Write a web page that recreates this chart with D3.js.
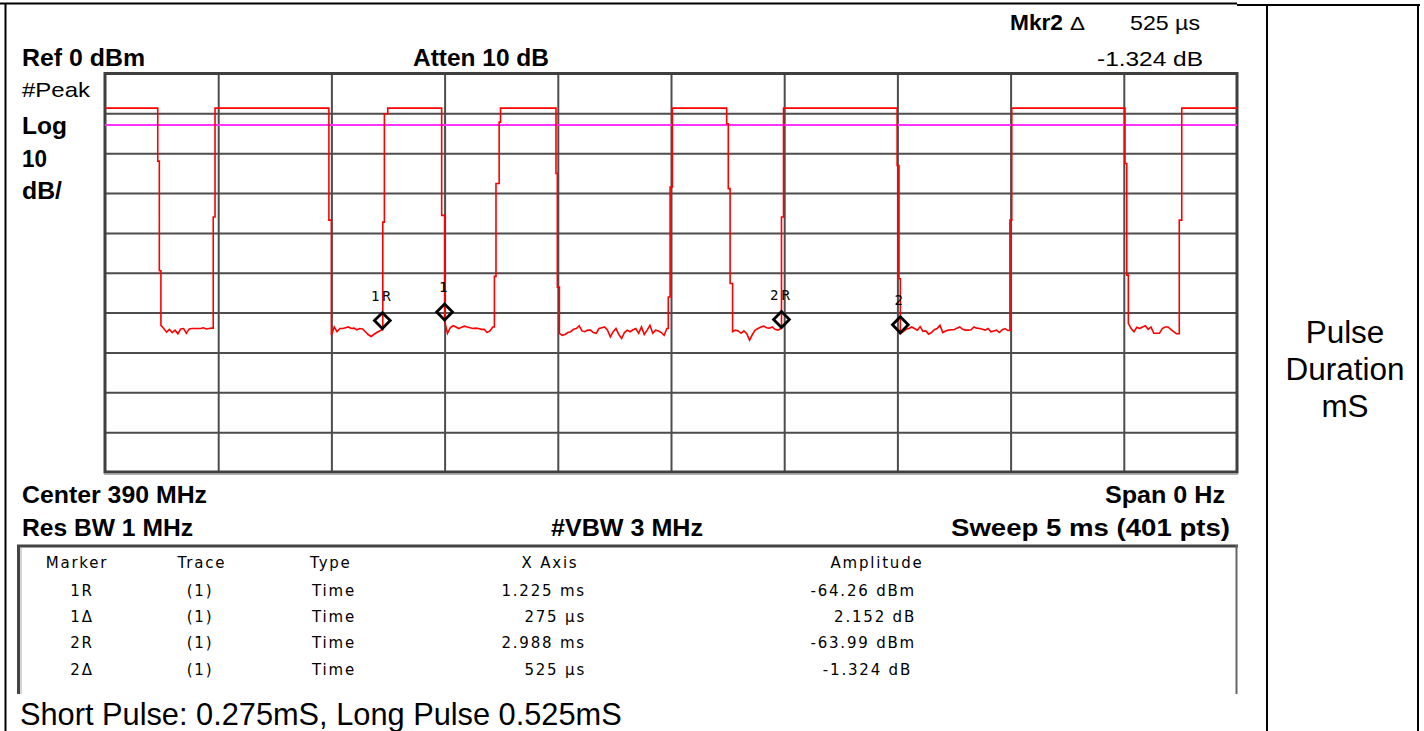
<!DOCTYPE html>
<html><head><meta charset="utf-8">
<script src="https://cdn.jsdelivr.net/npm/d3@7"></script>
<style>html,body{margin:0;padding:0;background:#fff;overflow:hidden}</style>
</head><body>
<svg id="c" width="1424" height="731"></svg>
<script>
// ---------------- data ----------------
const sweepMs = 5, sweepPoints = 401;
const refLevelDbm = 0, dbPerDiv = 10, divisions = 10;
const displayLineDbm = -12.9;
const xGridMs = [0.5, 1, 1.5, 2, 2.5, 3, 3.5, 4, 4.5];
const yGridDbm = [-10, -20, -30, -40, -50, -60, -70, -80, -90];

// burst edges / flat tops as [ms, dBm] vertices; group k precedes noise block k
const edgeGroup0 = [[0,-8.7],[0.233,-8.7],[0.233,-22.0],[0.240,-22.0],[0.240,-49.5],[0.247,-49.5]];
const edgeGroup1 = [[0.478,-63.9],[0.478,-36.0],[0.486,-36.0],[0.486,-8.7],[0.989,-8.7],[0.989,-36.8],[1.000,-36.8]];
const edgeGroup2 = [[1.227,-64.26],[1.227,-37.3],[1.234,-37.3],[1.234,-10.1],[1.249,-10.1],[1.249,-8.7],[1.487,-8.7],[1.487,-35.6],[1.500,-35.6]];
const edgeGroup3 = [[1.720,-63.6],[1.720,-50.9],[1.727,-50.9],[1.727,-27.6],[1.741,-27.6],[1.741,-12.2],[1.747,-12.2],[1.747,-8.7],[1.992,-8.7],[1.992,-25.1],[1.998,-25.1],[1.998,-53.6],[2.007,-53.6]];
const edgeGroup4 = [[2.488,-64.0],[2.488,-56.1],[2.496,-56.1],[2.496,-28.5],[2.506,-28.5],[2.506,-8.7],[2.746,-8.7],[2.746,-12.6],[2.753,-12.6],[2.753,-28.9],[2.761,-28.9],[2.761,-52.7],[2.772,-52.7]];
const edgeGroup5 = [[2.988,-63.99],[2.988,-36.0],[2.997,-36.0],[2.997,-8.7],[3.499,-8.7],[3.499,-23.1],[3.507,-23.1],[3.507,-51.5],[3.513,-51.5]];
const edgeGroup6 = [[3.997,-64.5],[3.997,-36.8],[4.005,-36.8],[4.005,-8.7],[4.505,-8.7],[4.505,-22.6],[4.513,-22.6],[4.513,-50.6],[4.520,-50.6]];
const edgeGroup7 = [[4.745,-65.3],[4.745,-36.8],[4.756,-36.8],[4.756,-8.7],[5.0,-8.7]];

// noise floor samples between bursts (one value per sweep point)
const noiseStartMs = [0.247, 1.000, 1.500, 2.007, 2.772, 3.513, 4.520];
const noise0 = [-63.2,-64.0,-64.9,-64.2,-65.0,-64.4,-65.3,-64.1,-64.0,-65.2,-64.1,-64.0,-64.0,-64.0,-64.0,-63.8,-64.1,-64.0,-63.9];
const noise1 = [-65.7,-63.6,-64.8,-64.0,-64.0,-63.8,-63.6,-64.0,-63.9,-64.3,-64.0,-64.1,-64.8,-65.5,-66.0,-65.5,-65.0,-64.6,-64.26];
const noise2 = [-62.11,-65.2,-63.8,-63.3,-63.6,-64.0,-63.7,-63.4,-63.6,-63.8,-64.0,-63.9,-64.0,-64.2,-64.2,-65.0,-64.6,-63.6];
const noise3 = [-65.2,-65.7,-65.5,-65.0,-64.8,-64.2,-64.0,-63.3,-64.6,-64.8,-64.4,-64.4,-65.0,-65.2,-64.0,-63.8,-63.6,-64.4,-66.1,-64.8,-64.0,-65.5,-66.5,-65.0,-64.4,-64.8,-64.3,-64.0,-65.2,-63.6,-65.5,-64.4,-63.2,-65.2,-64.4,-64.6,-65.0,-65.7,-64.0];
const noise4 = [-64.8,-64.4,-64.6,-65.2,-64.6,-65.3,-66.9,-65.5,-64.4,-64.0,-63.6,-63.4,-63.8,-63.9,-63.6,-64.2,-64.4,-63.99];
const noise5 = [-65.31,-64.8,-64.2,-64.0,-63.6,-64.0,-64.4,-63.5,-64.7,-64.6,-65.4,-65.0,-64.3,-64.0,-63.2,-65.0,-64.6,-64.4,-64.3,-64.3,-63.9,-63.6,-64.2,-64.4,-64.4,-64.3,-63.6,-63.9,-64.0,-64.2,-64.4,-64.0,-64.8,-64.6,-64.4,-65.0,-64.3,-64.0,-64.5];
const noise6 = [-62.7,-64.0,-64.8,-63.7,-64.0,-63.6,-63.3,-64.2,-63.6,-65.2,-65.2,-65.2,-64.0,-63.6,-63.6,-64.2,-64.8,-65.3];

// markers
const markerNames = ["1R", "1", "2R", "2"];
const markerTimeMs = [1.225, 1.500, 2.988, 3.513];
const markerLevelDbm = [-64.26, -62.11, -63.99, -65.31];

// marker table
const tableHeaders = ["Marker", "Trace", "Type", "X Axis", "Amplitude"];
const tableMarker = ["1R", "1\u0394", "2R", "2\u0394"];
const tableTrace = ["(1)", "(1)", "(1)", "(1)"];
const tableType = ["Time", "Time", "Time", "Time"];
const tableXAxis = ["1.225 ms", "275 \u00b5s", "2.988 ms", "525 \u00b5s"];
const tableAmplitude = ["-64.26 dBm", "2.152 dB", "-63.99 dBm", "-1.324 dB"];

// annotations
const txtRef = "Ref 0 dBm", txtAtten = "Atten 10 dB";
const txtMkr = "Mkr2", txtMkrVal = "525 \u00b5s", txtMkrAmp = "-1.324 dB";
const txtDet = ["#Peak", "Log", "10", "dB/"];
const txtCenter = "Center 390 MHz", txtSpan = "Span 0 Hz";
const txtRbw = "Res BW 1 MHz", txtVbw = "#VBW 3 MHz", txtSweep = "Sweep 5 ms (401 pts)";
const txtCaption = "Short Pulse: 0.275mS, Long Pulse 0.525mS";
const txtSide = ["Pulse", "Duration", "mS"];

// ---------------- drawing ----------------
const svg = d3.select("#c");
const L = 105, R = 1237, T = 73.5, B = 472;
const x = d3.scaleLinear().domain([0, sweepMs]).range([L, R]);
const y = d3.scaleLinear().domain([refLevelDbm, refLevelDbm - dbPerDiv * divisions]).range([T, B]);
const dt = sweepMs / (sweepPoints - 1);

const narrow = "'Liberation Sans Narrow','Arial Narrow','Liberation Sans',Arial,sans-serif";
const arial = "'Liberation Sans',Arial,sans-serif";
const tbl = "'DejaVu Sans',Verdana,sans-serif";

function label(txt, x0, base, o) {
  const t = svg.append("text").attr("x", x0).attr("y", base).text(txt)
    .attr("font-family", o.family || narrow).attr("font-size", o.size || 22)
    .attr("font-weight", o.weight || "normal").attr("text-anchor", o.anchor || "start")
    .attr("fill", "#000");
  if (o.ls) t.attr("letter-spacing", o.ls);
  if (o.width) t.attr("textLength", o.width).attr("lengthAdjust", "spacingAndGlyphs");
  return t;
}
function fit(t, w) {
  const cur = t.node().getComputedTextLength();
  const fs = parseFloat(t.attr("font-size"));
  t.attr("font-size", fs * w / cur);
}

// outer document table lines
const doc = svg.append("g").attr("stroke", "#000").attr("stroke-width", 2);
doc.append("line").attr("x1", 0).attr("x2", 1237).attr("y1", 3.5).attr("y2", 3.5);
doc.append("line").attr("x1", 1237).attr("x2", 1420).attr("y1", 5).attr("y2", 5);
doc.append("line").attr("x1", 5.5).attr("x2", 5.5).attr("y1", 3).attr("y2", 731);
doc.append("line").attr("x1", 1267).attr("x2", 1267).attr("y1", 4).attr("y2", 731);
doc.append("line").attr("x1", 1418).attr("x2", 1418).attr("y1", 4).attr("y2", 731);

// grid
svg.append("g").attr("transform", `translate(0,${B})`)
  .call(d3.axisBottom(x).tickValues(xGridMs).tickSize(-(B - T)).tickFormat(""))
  .call(g => g.select(".domain").remove())
  .call(g => g.selectAll("line").attr("stroke", "#4d4d4d").attr("stroke-width", 2));
svg.append("g").attr("transform", `translate(${L},0)`)
  .call(d3.axisLeft(y).tickValues(yGridDbm).tickSize(-(R - L)).tickFormat(""))
  .call(g => g.select(".domain").remove())
  .call(g => g.selectAll("line").attr("stroke", "#4d4d4d").attr("stroke-width", 2));

// frame
svg.append("rect").attr("x", L).attr("y", T).attr("width", R - L).attr("height", B - T)
  .attr("fill", "none").attr("stroke", "#3f3f3f").attr("stroke-width", 3);
svg.append("line").attr("x1", L - 1).attr("x2", R + 1).attr("y1", B + 2).attr("y2", B + 2)
  .attr("stroke", "#9a9a9a").attr("stroke-width", 1.5);

// display line
svg.append("line").attr("x1", x(0)).attr("x2", x(sweepMs))
  .attr("y1", y(displayLineDbm)).attr("y2", y(displayLineDbm))
  .attr("stroke", "#ff33ff").attr("stroke-width", 2);

// trace
const edgeGroups = [edgeGroup0, edgeGroup1, edgeGroup2, edgeGroup3, edgeGroup4, edgeGroup5, edgeGroup6, edgeGroup7];
const noiseBlocks = [noise0, noise1, noise2, noise3, noise4, noise5, noise6];
const verts = [];
edgeGroups.forEach((g, k) => {
  g.forEach(p => verts.push(p));
  if (k < noiseBlocks.length) noiseBlocks[k].forEach((v, i) => verts.push([noiseStartMs[k] + i * dt, v]));
});
svg.append("path").datum(verts)
  .attr("d", d3.line().x(d => x(d[0])).y(d => y(d[1])))
  .attr("fill", "none").attr("stroke", "#ff0000").attr("stroke-width", 1.6)
  .attr("stroke-linejoin", "miter");

// markers
const sym = d3.symbol(d3.symbolSquare).size(125)();
markerNames.forEach((n, i) => {
  const px = x(markerTimeMs[i]), py = y(markerLevelDbm[i]);
  svg.append("path").attr("d", sym)
    .attr("transform", `translate(${px},${py - 9}) rotate(45)`)
    .attr("fill", "none").attr("stroke", "#000").attr("stroke-width", 2.8);
  label(n, px, py - 29, { family: "'DejaVu Sans Mono',monospace", size: 14, anchor: "middle", ls: 3 });
});

// header annotations
label(txtRef, 22, 66, { weight: "bold", size: 23, width: 123 });
label(txtAtten, 413, 66, { weight: "bold", size: 23, width: 136 });
label(txtMkr, 1010, 30, { weight: "bold", size: 22, width: 53 });
label("\u0394", 1070, 30, { family: arial, size: 18, width: 15 });
label(txtMkrVal, 1130, 30, { family: arial, size: 21, width: 70 });
label(txtMkrAmp, 1097, 66, { family: arial, size: 21, width: 106 });
label(txtDet[0], 22, 97, { family: arial, size: 21, width: 68 });
label(txtDet[1], 22, 134, { weight: "bold", size: 23, width: 45 });
label(txtDet[2], 22, 167, { weight: "bold", size: 23, width: 25 });
label(txtDet[3], 22, 199, { weight: "bold", size: 23, width: 40 });

// footer annotations
label(txtCenter, 22, 503, { weight: "bold", size: 23, width: 185 });
label(txtSpan, 1105, 503, { weight: "bold", size: 23, width: 120 });
label(txtRbw, 22, 536, { weight: "bold", size: 23, width: 171 });
label(txtVbw, 551, 536, { weight: "bold", size: 23, width: 152 });
label(txtSweep, 951, 536, { weight: "bold", size: 23, width: 279 });

// marker table box
const box = svg.append("g").attr("fill", "none");
box.append("line").attr("x1", 17).attr("x2", 1238).attr("y1", 546).attr("y2", 546).attr("stroke", "#444").attr("stroke-width", 3);
box.append("line").attr("x1", 18.5).attr("x2", 18.5).attr("y1", 545).attr("y2", 694).attr("stroke", "#444").attr("stroke-width", 3);
box.append("line").attr("x1", 21).attr("x2", 21).attr("y1", 548).attr("y2", 694).attr("stroke", "#aaa").attr("stroke-width", 1);
box.append("line").attr("x1", 1236.5).attr("x2", 1236.5).attr("y1", 545).attr("y2", 694).attr("stroke", "#666").attr("stroke-width", 2);

const tOpt = { family: tbl, size: 15, ls: 1.8 };
const hdrX = [77, 202, 310, 550, 877];
const hdrAnchor = ["middle", "middle", "start", "middle", "middle"];
tableHeaders.forEach((h, i) => label(h, hdrX[i], 568, Object.assign({}, tOpt, { anchor: hdrAnchor[i] })));
const rowBase = [595.5, 621.5, 647.5, 674.5];
rowBase.forEach((b, r) => {
  label(tableMarker[r], 82, b, Object.assign({}, tOpt, { anchor: "middle" }));
  label(tableTrace[r], 200, b, Object.assign({}, tOpt, { anchor: "middle" }));
  label(tableType[r], 312, b, Object.assign({}, tOpt));
  label(tableXAxis[r], 586, b, Object.assign({}, tOpt, { anchor: "end" }));
  label(tableAmplitude[r], r === 3 ? 912 : 916, b, Object.assign({}, tOpt, { anchor: "end" }));
});

// caption and side cell
const cap = label(txtCaption, 20, 725, { family: arial, size: 30 });
fit(cap, 602);
const sideBase = [343, 380, 417];
txtSide.forEach((s, i) => {
  const t = label(s, 1345, sideBase[i], { family: arial, size: 30, anchor: "middle" });
  if (i === 1) fit(t, 119);
});
const fsSide = svg.selectAll("text").filter(function () { return d3.select(this).text() === txtSide[1]; }).attr("font-size");
svg.selectAll("text").filter(function () { const s = d3.select(this).text(); return s === txtSide[0] || s === txtSide[2]; }).attr("font-size", fsSide);
</script>
</body></html>
